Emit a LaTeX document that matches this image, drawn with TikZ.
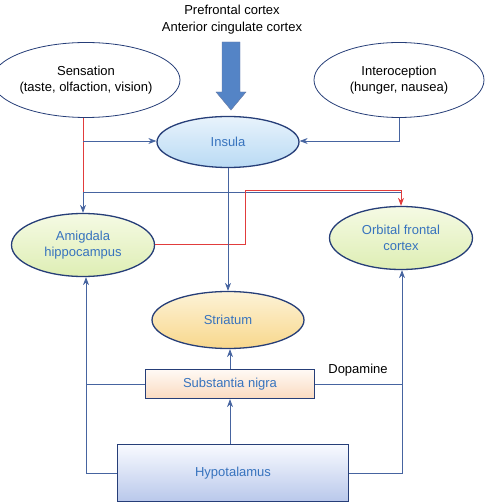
\documentclass[tikz,border=0pt]{standalone}
\usepackage{fontspec}
\setmainfont{Liberation Sans}
\usetikzlibrary{arrows.meta,shapes.geometric}
\definecolor{navy}{RGB}{38,62,120}
\definecolor{conn}{RGB}{70,100,160}
\definecolor{ntext}{RGB}{55,115,190}
\definecolor{bigarrow}{RGB}{84,132,198}
\definecolor{redl}{RGB}{225,60,60}
\definecolor{insT}{RGB}{232,243,252}
\definecolor{insB}{RGB}{185,218,244}
\definecolor{grT}{RGB}{245,250,228}
\definecolor{grB}{RGB}{222,238,180}
\definecolor{stT}{RGB}{253,243,215}
\definecolor{stB}{RGB}{248,215,140}
\definecolor{snT}{RGB}{255,250,245}
\definecolor{snB}{RGB}{250,218,192}
\definecolor{hyT}{RGB}{248,250,255}
\definecolor{hyB}{RGB}{185,200,235}
\tikzset{
  x=1pt,y=-1pt,
  every node/.style={font=\fontsize{13}{15.5}\selectfont, align=center},
  ell/.style={ellipse, draw=navy, line width=1.3pt, text=ntext, inner sep=0pt},
  whiteell/.style={ellipse, draw=navy, line width=0.8pt, text=black, inner sep=0pt, fill=white},
  boxn/.style={rectangle, draw=navy, line width=1.3pt, text=ntext, inner sep=0pt},
  ln/.style={draw=conn, line width=0.8pt},
  arr/.style={ln, -{Stealth[length=8pt,width=6pt]}},
  redln/.style={draw=redl, line width=0.9pt},
  redarr/.style={redln, -{Stealth[length=8pt,width=6pt]}},
}
\begin{document}
\begin{tikzpicture}
\useasboundingbox (0,0) rectangle (485,502);
% title
\node[font=\fontsize{13}{17}\selectfont] (pfc) at (232,20) {Prefrontal cortex\\Anterior cingulate cortex};
% big arrow
\fill[bigarrow, draw=navy!70, line width=0.4pt] (222,42) -- (240,42) -- (240,92) -- (246,92) -- (231,110) -- (216,92) -- (222,92) -- cycle;
% nodes
\node[whiteell, minimum width=170, minimum height=75] (sens) at (86,80) {Sensation\\(taste, olfaction, vision)};
\node[whiteell, minimum width=170, minimum height=75] (intero) at (399,80) {Interoception\\(hunger, nausea)};
\node[ell, minimum width=142, minimum height=51, top color=insT, bottom color=insB] (insula) at (228,142) {Insula};
\node[ell, minimum width=143, minimum height=63, top color=grT, bottom color=grB] (amyg) at (83,245) {Amigdala\\hippocampus};
\node[ell, minimum width=143, minimum height=63, top color=grT, bottom color=grB] (ofc) at (401,238) {Orbital frontal\\cortex};
\node[ell, minimum width=152, minimum height=57, top color=stT, bottom color=stB] (str) at (228,320) {Striatum};
\node[boxn, minimum width=169, minimum height=29, top color=snT, bottom color=snB] (sn) at (230,384) {Substantia nigra};
\node[boxn, minimum width=231, minimum height=57, top color=hyT, bottom color=hyB] (hypo) at (233,473) {Hypotalamus};
\node (dopa) at (358,370) {Dopamine};
% coordinates
\coordinate (j1) at (83,141);
\coordinate (j2) at (83,192.5);
\coordinate (j3) at (401,192.5);
\coordinate (ia) at (399,141);
\coordinate (r1) at (245,244);
\coordinate (r2) at (245,190);
\coordinate (r3) at (401,190);
\coordinate (hl) at (86,473);
\coordinate (hr) at (402,473);
\coordinate (sl) at (86,384);
\coordinate (sr) at (402,384);
% connectors
\draw[redln] (sens.south -| j1) -- (j2);
\draw[arr] (j1) -- (insula.west |- j1);
\draw[arr] (intero.south -| ia) -- (ia) -- (insula.east |- ia);
\draw[arr] (j2) -- (amyg.north -| j2);
\draw[ln] (j2) -- (j3);
\draw[redarr] (amyg.east |- r1) -- (r1) -- (r2) -- (r3) -- (ofc.north -| r3);
\draw[arr] (insula.south) -- (str.north);
\draw[arr] (sn.north -| 230,0) -- (str.south -| 230,0);
\draw[arr] (hypo.north -| 230,0) -- (sn.south -| 230,0);
\draw[arr] (hypo.west |- hl) -- (hl) -- (amyg.south -| hl);
\draw[ln] (sn.west) -- (sl);
\draw[arr] (hypo.east |- hr) -- (hr) -- (ofc.south -| hr);
\draw[ln] (sn.east) -- (sr);
\end{tikzpicture}
\end{document}
